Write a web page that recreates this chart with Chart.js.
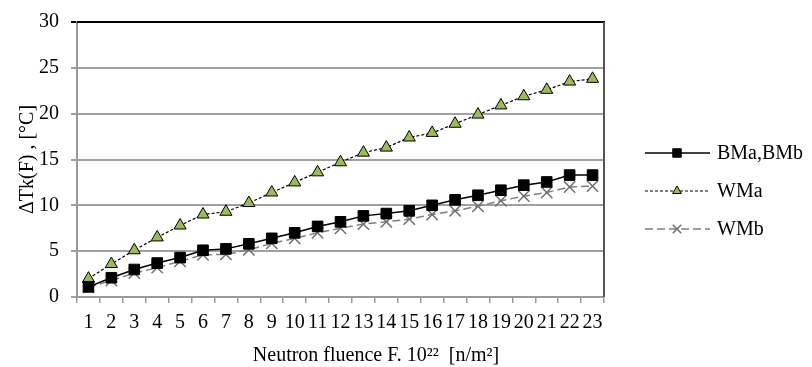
<!DOCTYPE html>
<html><head><meta charset="utf-8">
<script src="https://cdn.jsdelivr.net/npm/chart.js@4/dist/chart.umd.min.js"></script>
<style>html,body{margin:0;padding:0;background:#fff;}#wrap{width:812px;height:367px;position:relative;}</style>
</head><body><div id="wrap"><canvas id="c" width="812" height="367"></canvas></div>
<script>
const categories = ['1','2','3','4','5','6','7','8','9','10','11','12','13','14','15','16','17','18','19','20','21','22','23'];
const bmValues  = [1.1, 2.1, 3.0, 3.7, 4.3, 5.1, 5.25, 5.8, 6.4, 7.0, 7.7, 8.2, 8.85, 9.1, 9.4, 10.0, 10.6, 11.1, 11.65, 12.2, 12.55, 13.3, 13.3];
const wmaValues = [2.0, 3.6, 5.1, 6.5, 7.8, 9.0, 9.3, 10.25, 11.4, 12.5, 13.6, 14.7, 15.75, 16.3, 17.4, 17.9, 18.9, 19.9, 20.9, 21.9, 22.6, 23.5, 23.8];
const wmbValues = [1.05, 1.8, 2.6, 3.2, 3.9, 4.6, 4.65, 5.15, 5.85, 6.4, 7.0, 7.5, 7.95, 8.2, 8.5, 9.0, 9.4, 9.9, 10.5, 11.0, 11.4, 12.0, 12.1];
const seriesLabels = ['BMa,BMb', 'WMa', 'WMb'];
const yTicks = [0, 5, 10, 15, 20, 25, 30];
const xTitle = 'Neutron fluence F. 10\u00B2\u00B2  [n/m\u00B2]';
const yTitle = '\u0394Tk(F) , [\u00B0C]';

const FONT = '"Liberation Serif", "Times New Roman", serif';
const PL = 0, PR = 208, PT = 17;

function drawMarker(ctx, style, x, y, r, fill, stroke, bw) {
  ctx.save();
  ctx.fillStyle = fill; ctx.strokeStyle = stroke; ctx.lineWidth = bw; ctx.setLineDash([]);
  ctx.beginPath();
  if (style === 'rect') {
    const s = Math.SQRT1_2 * r;
    ctx.rect(x - s, y - s, 2 * s, 2 * s);
    ctx.fill(); ctx.stroke();
  } else if (style === 'triangle') {
    for (let i = 0; i < 3; i++) {
      const a = i * 2 * Math.PI / 3;
      const px = x + Math.sin(a) * r, py = y - Math.cos(a) * r;
      if (i === 0) ctx.moveTo(px, py); else ctx.lineTo(px, py);
    }
    ctx.closePath(); ctx.fill(); ctx.stroke();
  } else if (style === 'crossRot') {
    const s = Math.SQRT1_2 * r;
    ctx.moveTo(x - s, y - s); ctx.lineTo(x + s, y + s);
    ctx.moveTo(x + s, y - s); ctx.lineTo(x - s, y + s);
    ctx.stroke();
  }
  ctx.restore();
}

const customLegend = {
  id: 'customLegend',
  beforeDatasetsDraw(chart) {
    const {ctx, chartArea} = chart;
    ctx.save();
    ctx.setLineDash([]);
    ctx.strokeStyle = '#000'; ctx.lineWidth = 2;
    ctx.beginPath(); ctx.moveTo(chartArea.left, chartArea.top); ctx.lineTo(chartArea.right + 1, chartArea.top); ctx.stroke();
    ctx.strokeStyle = '#555'; ctx.lineWidth = 2;
    ctx.beginPath(); ctx.moveTo(chartArea.right, chartArea.top); ctx.lineTo(chartArea.right, chartArea.bottom); ctx.stroke();
    ctx.restore();
  },
  afterDraw(chart) {
    const {ctx} = chart;
    ctx.save();
    ctx.fillStyle = '#000'; ctx.font = '20px ' + FONT;
    ctx.textAlign = 'center'; ctx.textBaseline = 'middle';
    ctx.fillText(xTitle, 376, 356);
    ctx.restore();
    const ys = [153, 191, 229];
    const x0 = 645, x1 = 710, xm = 677, tx = 717;
    chart.data.datasets.forEach((ds, i) => {
      const y = ys[i];
      ctx.save();
      ctx.strokeStyle = ds.borderColor; ctx.lineWidth = ds.borderWidth;
      ctx.setLineDash(ds.borderDash || []);
      ctx.beginPath(); ctx.moveTo(x0, y); ctx.lineTo(x1, y); ctx.stroke();
      ctx.restore();
      drawMarker(ctx, ds.pointStyle, xm, y, ds.legendRadius, ds.pointBackgroundColor, ds.pointBorderColor, ds.pointBorderWidth);
      ctx.save();
      ctx.fillStyle = '#000'; ctx.font = '20px ' + FONT;
      ctx.textBaseline = 'middle'; ctx.textAlign = 'left';
      ctx.fillText(ds.label, tx, y + 1);
      ctx.restore();
    });
  }
};

new Chart(document.getElementById('c'), {
  type: 'line',
  data: {
    labels: categories,
    datasets: [
      { label: seriesLabels[0], data: bmValues, borderColor: '#000', borderWidth: 1.5, borderDash: [],
        pointStyle: 'rect', pointRadius: 7.5, pointBackgroundColor: '#000', pointBorderColor: '#000', pointBorderWidth: 1, legendRadius: 6, tension: 0 },
      { label: seriesLabels[1], data: wmaValues, borderColor: '#000', borderWidth: 1.2, borderDash: [3, 2],
        pointStyle: 'triangle', pointRadius: 7, pointBackgroundColor: '#9bbb59', pointBorderColor: '#000', pointBorderWidth: 1, legendRadius: 5, tension: 0 },
      { label: seriesLabels[2], data: wmbValues, borderColor: '#7f7f7f', borderWidth: 1.5, borderDash: [8, 4],
        pointStyle: 'crossRot', pointRadius: 8, pointBackgroundColor: '#7f7f7f', pointBorderColor: '#6f6f6f', pointBorderWidth: 1.5, legendRadius: 6, tension: 0 }
    ]
  },
  options: {
    responsive: false, animation: false, devicePixelRatio: 1,
    layout: { padding: { left: PL, right: PR, top: PT, bottom: 0 } },
    plugins: { legend: { display: false }, tooltip: { enabled: false }, title: { display: false } },
    scales: {
      x: {
        type: 'category', offset: true,
        grid: { display: true, drawOnChartArea: false, drawTicks: true, tickLength: 6, offset: true, color: '#999', lineWidth: 1.5 },
        border: { display: true, color: '#999', width: 1.5 },
        ticks: { autoSkip: false, maxRotation: 0, minRotation: 0, padding: 8, color: '#000', font: { family: FONT, size: 20 } },
        title: { display: false },
        afterFit(scale) { scale.height = 70; }
      },
      y: {
        min: 0, max: 30,
        afterBuildTicks(scale) { scale.ticks = yTicks.map(v => ({ value: v })); },
        grid: { color: (c) => c.tick && c.tick.value === 30 ? '#000' : '#a0a0a0', lineWidth: 2, tickLength: 6, drawTicks: true },
        border: { display: true, color: '#999', width: 2 },
        ticks: { padding: 12, color: '#000', font: { family: FONT, size: 20, lineHeight: 1 } },
        title: { display: true, text: yTitle, color: '#000', font: { family: FONT, size: 20 }, padding: { top: 16, bottom: 0 } },
        afterFit(scale) { scale.width = 77; }
      }
    }
  },
  plugins: [customLegend]
});
</script>
</body></html>
